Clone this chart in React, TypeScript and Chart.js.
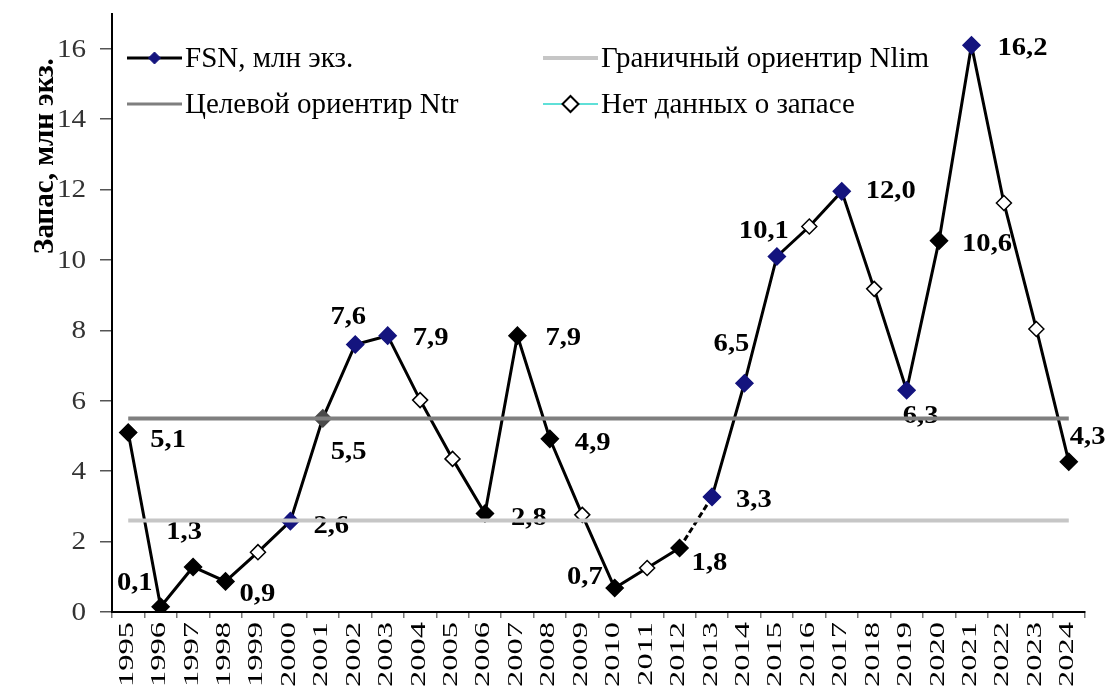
import React, { useEffect, useRef } from "react";
import { Chart, registerables } from "chart.js";

Chart.register(...registerables);

const years = [
  "1995", "1996", "1997", "1998", "1999", "2000", "2001", "2002", "2003", "2004",
  "2005", "2006", "2007", "2008", "2009", "2010", "2011", "2012", "2013", "2014",
  "2015", "2016", "2017", "2018", "2019", "2020", "2021", "2022", "2023", "2024",
];
const fsn = [
  5.1, 0.15, 1.28, 0.87, 1.7, 2.58, 5.5, 7.6, 7.85, 6.02,
  4.35, 2.8, 7.85, 4.92, 2.76, 0.68, 1.25, 1.82, 3.27, 6.5,
  10.1, 10.95, 11.95, 9.18, 6.3, 10.55, 16.1, 11.62, 8.04, 4.27,
];
// k = black marker, b = blue marker, g = grey marker, o = open (no stock data)
const status = [
  "k", "k", "k", "k", "o", "b", "g", "b", "b", "o",
  "o", "k", "k", "k", "o", "k", "o", "k", "b", "b",
  "b", "o", "b", "o", "b", "k", "b", "o", "o", "k",
];
const valueLabels = [
  "5,1", "0,1", "1,3", "0,9", null, "2,6", "5,5", "7,6", "7,9", null,
  null, "2,8", "7,9", "4,9", null, "0,7", null, "1,8", "3,3", "6,5",
  "10,1", null, "12,0", null, "6,3", "10,6", "16,2", null, null, "4,3",
];
// label placement: [dx, dy, textAlign]
const labelPlace: [number, number, CanvasTextAlign][] = [
  [22, 8, "left"], [-8, -23, "right"], [-9, -35, "center"], [14, 13, "left"], [0, 0, "left"],
  [23, 5, "left"], [8, 34, "left"], [-7, -27, "center"], [25, 3, "left"], [0, 0, "left"],
  [0, 0, "left"], [26, 5, "left"], [28, 3, "left"], [25, 4, "left"], [0, 0, "left"],
  [-12, -11, "right"], [0, 0, "left"], [12, 15, "left"], [24, 3, "left"], [-13, -39, "center"],
  [-13, -25, "center"], [0, 0, "left"], [24, 0, "left"], [0, 0, "left"], [14, 26, "center"],
  [23, 4, "left"], [26, 3, "left"], [0, 0, "left"], [0, 0, "left"], [1, -24, "left"],
];
const dashedFrom = [17];
const ntrValue = 5.5;
const nlimValue = 2.6;
const yTicks = [0, 2, 4, 6, 8, 10, 12, 14, 16];

const legendItems = [
  { text: "FSN, млн экз.", kind: "fsn" },
  { text: "Граничный ориентир Nlim", kind: "nlim" },
  { text: "Целевой ориентир Ntr", kind: "ntr" },
  { text: "Нет данных о запасе", kind: "none" },
];
const yTitle = "Запас, млн экз.";

const BLUE = "#14147e";
const NTR_COLOR = "#7f7f7f";
const NLIM_COLOR = "#c6c6c6";
const SERIF = "'Liberation Serif', 'Times New Roman', serif";

function drawDiamond(ctx: CanvasRenderingContext2D, x: number, y: number, r: number, fill: string, stroke: string, lw: number) {
  ctx.beginPath();
  ctx.moveTo(x, y - r);
  ctx.lineTo(x + r, y);
  ctx.lineTo(x, y + r);
  ctx.lineTo(x - r, y);
  ctx.closePath();
  ctx.fillStyle = fill;
  ctx.fill();
  ctx.lineWidth = lw;
  ctx.strokeStyle = stroke;
  ctx.stroke();
}

const overlayPlugin = {
  id: "overlay",
  beforeDatasetsDraw(chart: any) {
    const ctx = chart.ctx as CanvasRenderingContext2D;
    const meta = chart.getDatasetMeta(2);
    meta.data.forEach((pt: any, i: number) => {
      const t = valueLabels[i];
      if (!t) return;
      const [dx, dy, al] = labelPlace[i];
      ctx.save();
      ctx.font = `bold 26px ${SERIF}`;
      ctx.fillStyle = "#000";
      ctx.textBaseline = "middle";
      ctx.textAlign = al;
      ctx.translate(pt.x + dx, pt.y + dy);
      ctx.scale(1.1, 1);
      ctx.fillText(t, 0, 0);
      ctx.restore();
    });
  },
  afterDraw(chart: any) {
    const ctx = chart.ctx as CanvasRenderingContext2D;
    const xs = chart.scales.x;
    const ys = chart.scales.y;

    // y tick labels
    yTicks.forEach((v) => {
      ctx.save();
      ctx.font = `26px ${SERIF}`;
      ctx.fillStyle = "#333";
      ctx.textAlign = "right";
      ctx.textBaseline = "middle";
      ctx.translate(86, ys.getPixelForValue(v) + 1);
      ctx.scale(1.12, 1);
      ctx.fillText(String(v), 0, 0);
      ctx.restore();
    });

    // x tick labels
    years.forEach((yr, i) => {
      ctx.save();
      ctx.font = `21px ${SERIF}`;
      ctx.fillStyle = "#000";
      ctx.textAlign = "right";
      ctx.textBaseline = "middle";
      ctx.translate(xs.getPixelForValue(i) - 1, 622);
      ctx.rotate(-Math.PI / 2);
      ctx.scale(1.55, 1);
      ctx.fillText(yr, 0, 0);
      ctx.restore();
    });

    // y axis title
    ctx.save();
    ctx.translate(46, 156);
    ctx.rotate(-Math.PI / 2);
    ctx.font = `bold 29px ${SERIF}`;
    ctx.fillStyle = "#000";
    ctx.textAlign = "center";
    ctx.textBaseline = "middle";
    ctx.fillText(yTitle, 0, 0);
    ctx.restore();

    // legend
    const cols = [127, 543];
    const rows = [58, 104];
    ctx.save();
    ctx.font = `29px ${SERIF}`;
    ctx.textBaseline = "middle";
    ctx.textAlign = "left";
    legendItems.forEach((it, i) => {
      const x = cols[i % 2];
      const y = rows[Math.floor(i / 2)];
      const w = 55;
      ctx.lineCap = "butt";
      if (it.kind === "fsn") {
        ctx.strokeStyle = "#000";
        ctx.lineWidth = 3;
        ctx.beginPath(); ctx.moveTo(x, y); ctx.lineTo(x + w, y); ctx.stroke();
        drawDiamond(ctx, x + w / 2, y, 6, BLUE, BLUE, 1);
      } else if (it.kind === "ntr") {
        ctx.strokeStyle = NTR_COLOR;
        ctx.lineWidth = 3;
        ctx.beginPath(); ctx.moveTo(x, y); ctx.lineTo(x + w, y); ctx.stroke();
      } else if (it.kind === "nlim") {
        ctx.strokeStyle = NLIM_COLOR;
        ctx.lineWidth = 4;
        ctx.beginPath(); ctx.moveTo(x, y); ctx.lineTo(x + w, y); ctx.stroke();
      } else {
        ctx.strokeStyle = "#5fe0d8";
        ctx.lineWidth = 2;
        ctx.beginPath(); ctx.moveTo(x, y); ctx.lineTo(x + w, y); ctx.stroke();
        drawDiamond(ctx, x + w / 2, y, 8, "#fff", "#000", 2);
      }
      ctx.fillStyle = "#000";
      ctx.fillText(it.text, x + w + 3, y + 1);
    });
    ctx.restore();
  },
};

export default function App() {
  const ref = useRef<HTMLCanvasElement | null>(null);
  useEffect(() => {
    document.body.style.margin = "0";
    const canvas = ref.current;
    if (!canvas) return;
    const pointFill = status.map((s) => (s === "b" ? BLUE : s === "o" ? "#fff" : s === "g" ? "#4a4a4a" : "#000"));
    const pointStroke = status.map((s) => (s === "b" ? BLUE : s === "g" ? "#4a4a4a" : "#000"));
    const pointRad = status.map((s) => (s === "o" ? 7.5 : 8.5));
    const chart = new Chart(canvas, {
      type: "line",
      data: {
        labels: years,
        datasets: [
          {
            label: "Целевой ориентир Ntr",
            data: years.map(() => ntrValue),
            borderColor: NTR_COLOR,
            borderWidth: 4,
            pointRadius: 0,
          },
          {
            label: "Граничный ориентир Nlim",
            data: years.map(() => nlimValue),
            borderColor: NLIM_COLOR,
            borderWidth: 4,
            pointRadius: 0,
          },
          {
            label: "FSN, млн экз.",
            data: fsn,
            borderColor: "#000",
            borderWidth: 3,
            pointStyle: "rectRot",
            pointRadius: pointRad,
            pointBackgroundColor: pointFill,
            pointBorderColor: pointStroke,
            pointBorderWidth: 1.5,
            segment: {
              borderDash: (c: any) => (dashedFrom.includes(c.p0DataIndex) ? [6, 3] : undefined),
            },
          },
        ],
      },
      options: {
        animation: false,
        responsive: true,
        maintainAspectRatio: false,
        layout: { padding: { top: 13.6, right: 25, left: 0, bottom: 0 } },
        plugins: { legend: { display: false }, tooltip: { enabled: false } },
        scales: {
          x: {
            type: "category",
            offset: true,
            afterFit: (s: any) => { s.height = 81; s.paddingLeft = 0; s.paddingRight = 0; },
            grid: { offset: true, drawOnChartArea: false, drawTicks: true, tickLength: 6, color: "#777", lineWidth: 1.5 },
            border: { display: true, color: "#000", width: 2 },
            ticks: { display: false, autoSkip: false },
          },
          y: {
            min: 0,
            max: 17,
            afterFit: (s: any) => { s.width = 112; s.paddingTop = 0; s.paddingBottom = 0; },
            afterBuildTicks: (s: any) => { s.ticks = yTicks.map((v) => ({ value: v })); },
            grid: { drawOnChartArea: false, drawTicks: true, tickLength: 12, color: "#555", lineWidth: 1.5 },
            border: { display: true, color: "#000", width: 2 },
            ticks: { display: false },
          },
        },
      },
      plugins: [overlayPlugin],
    });
    return () => chart.destroy();
  }, []);
  return (
    <div style={{ position: "fixed", left: 0, top: 0, width: 1110, height: 693, background: "#fff" }}>
      <canvas ref={ref} />
    </div>
  );
}
